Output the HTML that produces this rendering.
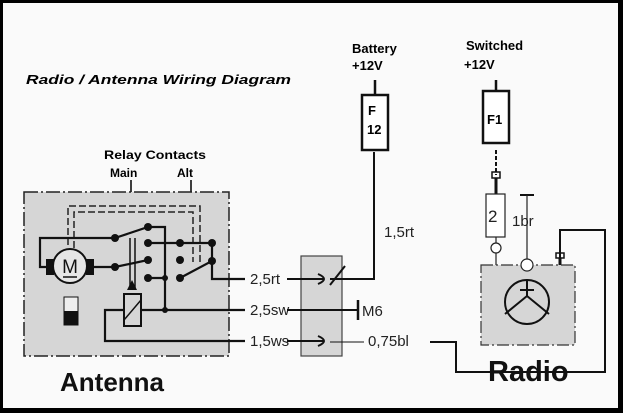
<!DOCTYPE html>
<html><head><meta charset="utf-8"><style>
html,body{margin:0;padding:0;background:#fafafa}
svg{display:block}
</style></head><body>
<svg width="623" height="413" viewBox="0 0 623 413" xmlns="http://www.w3.org/2000/svg" font-family="Liberation Sans, sans-serif">
<rect x="0" y="0" width="623" height="413" fill="#fafafa"/>
<rect x="1.5" y="1.5" width="618" height="408" fill="none" stroke="#000" stroke-width="3"/>
<rect x="618" y="0" width="5" height="413" fill="#000"/>
<rect x="0" y="408" width="623" height="5" fill="#000"/>

<text x="26" y="84" font-size="13" font-weight="bold" font-style="italic" textLength="265" lengthAdjust="spacingAndGlyphs">Radio / Antenna Wiring Diagram</text>
<text x="104" y="159" font-size="12" font-weight="bold" textLength="102" lengthAdjust="spacingAndGlyphs">Relay Contacts</text>
<text x="110" y="177" font-size="12" font-weight="bold">Main</text>
<text x="177" y="177" font-size="12" font-weight="bold">Alt</text>
<line x1="131" y1="180" x2="131" y2="200" stroke="#000" stroke-width="1.5"/>
<line x1="191" y1="180" x2="191" y2="200" stroke="#000" stroke-width="1.5"/>

<!-- Antenna box -->
<rect x="24" y="192" width="205" height="164" fill="#d6d6d6" stroke="#222" stroke-width="1.5" stroke-dasharray="14,3,2,3"/>
<path d="M68 245 V206 H200 V262" fill="none" stroke="#222" stroke-width="1.5" stroke-dasharray="7,3"/>
<path d="M74 248 V212 H193 V262" fill="none" stroke="#222" stroke-width="1.5" stroke-dasharray="7,3"/>

<g stroke="#111" stroke-width="2.2" fill="none">
<path d="M115 238 H40 V267 H50"/>
<path d="M90 267 H115"/>
<path d="M115 238 L148 227 H165 V310"/>
<path d="M115 267 L148 260"/>
<path d="M148 243 H212 V261 L180 278"/>
<path d="M212 261 V279 H245"/>
<path d="M148 278 H165"/>
<path d="M141 310 H245"/>
<path d="M124 310 H105 V341 H245"/>
<path d="M130 238 V290 M135 238 V290" stroke-width="1.5"/>
</g>
<polygon points="132,280 127,290 137,290" fill="#111"/>
<rect x="124" y="294" width="17" height="32" fill="none" stroke="#111" stroke-width="2"/>
<line x1="124" y1="320" x2="141" y2="300" stroke="#111" stroke-width="1.5"/>
<g fill="#111">
<circle cx="115" cy="238" r="4"/><circle cx="148" cy="227" r="4"/><circle cx="148" cy="243" r="4"/>
<circle cx="180" cy="243" r="4"/><circle cx="212" cy="243" r="4"/><circle cx="115" cy="267" r="4"/>
<circle cx="148" cy="260" r="4"/><circle cx="180" cy="260" r="4"/><circle cx="212" cy="261" r="4"/>
<circle cx="148" cy="278" r="4"/><circle cx="165" cy="278" r="3"/><circle cx="180" cy="278" r="4"/>
<circle cx="165" cy="310" r="3"/>
<rect x="46" y="259" width="8" height="16"/><rect x="86" y="259" width="8" height="16"/>
</g>
<circle cx="70" cy="266" r="17" fill="#e6e6e6" stroke="#111" stroke-width="2"/>
<text x="70" y="273" font-size="19" text-anchor="middle" fill="#111">M</text>
<line x1="63" y1="277" x2="77" y2="277" stroke="#111" stroke-width="1.5"/>
<rect x="64" y="297" width="14" height="28" fill="#eee" stroke="#111" stroke-width="1"/>
<rect x="64" y="311" width="14" height="14" fill="#111"/>

<text x="250" y="284" font-size="15" fill="#222">2,5rt</text>
<text x="250" y="315" font-size="15" fill="#222">2,5sw</text>
<text x="250" y="346" font-size="15" fill="#222">1,5ws</text>
<text x="60" y="391" font-size="26" font-weight="bold" fill="#111">Antenna</text>

<!-- connector block -->
<rect x="301" y="256" width="41" height="100" fill="#d6d6d6" stroke="#444" stroke-width="1.2"/>
<g stroke="#111" stroke-width="2" fill="none">
<path d="M287 279 H324 M287 310 H358 M287 341 H324"/>
<path d="M318 274 Q330 279 318 284 M318 336 Q330 341 318 346"/>
<path d="M330 285 L345 266"/>
<path d="M330 279 H374 V152"/>
<line x1="358" y1="300" x2="358" y2="320" stroke-width="2.5"/>
<path d="M330 342 H364" stroke-width="1"/>
<path d="M430 342 H456 V372 H605 V230 H560 V258"/>
</g>
<text x="362" y="316" font-size="15" fill="#222">M6</text>
<text x="384" y="237" font-size="15" fill="#222">1,5rt</text>
<text x="368" y="346" font-size="15" fill="#222">0,75bl</text>

<!-- F12 -->
<text x="352" y="53" font-size="13" font-weight="bold">Battery</text>
<text x="352" y="70" font-size="13" font-weight="bold">+12V</text>
<line x1="375" y1="80" x2="375" y2="95" stroke="#111" stroke-width="2.5"/>
<rect x="362" y="95" width="26" height="55" fill="#fff" stroke="#111" stroke-width="2.5"/>
<text x="368" y="115" font-size="13" font-weight="bold">F</text>
<text x="367" y="134" font-size="13" font-weight="bold">12</text>

<!-- F1 -->
<text x="466" y="50" font-size="13" font-weight="bold">Switched</text>
<text x="464" y="69" font-size="13" font-weight="bold">+12V</text>
<line x1="496" y1="80" x2="496" y2="91" stroke="#111" stroke-width="2.5"/>
<rect x="483" y="91" width="26" height="52" fill="#fff" stroke="#111" stroke-width="2.5"/>
<text x="487" y="124" font-size="13" font-weight="bold">F1</text>
<path d="M496 150 V175" stroke="#111" stroke-width="2" stroke-dasharray="4,2"/>
<rect x="492" y="172" width="8" height="6" fill="none" stroke="#111" stroke-width="1.5"/>
<line x1="496" y1="178" x2="496" y2="194" stroke="#111" stroke-width="3"/>
<rect x="486" y="194" width="19" height="43" fill="#fff" stroke="#222" stroke-width="1.2"/>
<text x="488" y="222" font-size="17" fill="#222">2</text>
<line x1="496" y1="237" x2="496" y2="243" stroke="#222" stroke-width="1.2"/>
<circle cx="496" cy="248" r="5" fill="#fff" stroke="#222" stroke-width="1.2"/>
<line x1="496" y1="253" x2="496" y2="265" stroke="#222" stroke-width="1.2"/>
<line x1="520" y1="195" x2="534" y2="195" stroke="#111" stroke-width="2"/>
<line x1="527" y1="195" x2="527" y2="259" stroke="#222" stroke-width="1.2"/>
<text x="512" y="226" font-size="15" fill="#222">1br</text>
<rect x="556" y="253" width="8" height="5" fill="none" stroke="#111" stroke-width="1.5"/>
<line x1="560" y1="258" x2="560" y2="266" stroke="#111" stroke-width="3"/>

<rect x="481" y="265" width="94" height="80" fill="#d6d6d6" stroke="#333" stroke-width="1.2" stroke-dasharray="12,3,2,3"/>
<circle cx="527" cy="265" r="6" fill="#fff" stroke="#222" stroke-width="1.2"/>
<circle cx="527" cy="302" r="22" fill="none" stroke="#111" stroke-width="2"/>
<g stroke="#111" stroke-width="2">
<line x1="527" y1="280" x2="527" y2="296"/>
<line x1="505" y1="314" x2="527" y2="296"/>
<line x1="549" y1="314" x2="527" y2="296"/>
<line x1="520" y1="290" x2="534" y2="290"/>
</g>
<text x="488" y="381" font-size="29" font-weight="bold" fill="#111">Radio</text>
</svg>
</body></html>
